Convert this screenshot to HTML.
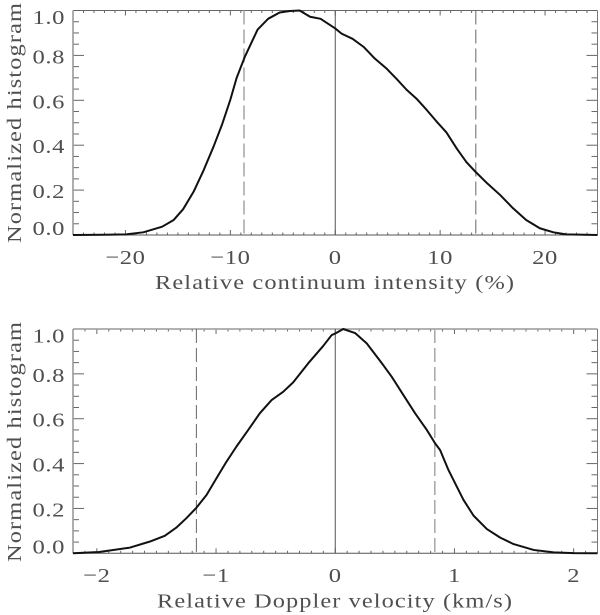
<!DOCTYPE html>
<html lang="en">
<head>
<meta charset="utf-8">
<title>Normalized histograms</title>
<style>
html,body{margin:0;padding:0;background:#fff;width:600px;height:615px;overflow:hidden}
svg{display:block;position:absolute;left:0;top:0}
text{font-family:"Liberation Serif",serif;fill:#4f4f4f}
</style>
</head>
<body>
<svg id="figure" width="600" height="615" viewBox="0 0 600 615" xmlns="http://www.w3.org/2000/svg"></svg>
<script>
const intensityBins = [-25,-22,-19.9,-18.3,-16.5,-15.4,-14.5,-13.5,-12.6,-11.6,-10.8,-10,-9.4,-8.6,-7.4,-6.4,-5.3,-4.3,-3.4,-2.4,-1.4,0,0.6,1.65,2.7,3.7,4.9,5.85,6.8,7.75,8.7,9.65,10.6,11.6,12.5,13.4,14.4,15.7,16.95,18.2,19.5,20.8,22,25];
const intensityHist = [0,0.001,0.003,0.012,0.037,0.067,0.115,0.193,0.283,0.394,0.491,0.603,0.7,0.796,0.915,0.963,0.991,0.998,1,0.972,0.963,0.92,0.897,0.874,0.838,0.789,0.741,0.695,0.647,0.607,0.558,0.506,0.457,0.384,0.325,0.28,0.234,0.179,0.119,0.067,0.03,0.012,0.003,0];
const dopplerBins = [-2.2,-1.98,-1.725,-1.557,-1.43,-1.33,-1.25,-1.165,-1.08,-0.997,-0.913,-0.83,-0.73,-0.633,-0.534,-0.437,-0.353,-0.227,-0.1,-0.03,0,0.067,0.166,0.264,0.376,0.474,0.571,0.67,0.768,0.838,0.88,0.95,1.02,1.076,1.16,1.272,1.384,1.496,1.664,1.832,2,2.2];
const dopplerHist = [0,0.006,0.025,0.052,0.078,0.116,0.156,0.203,0.26,0.334,0.408,0.475,0.55,0.624,0.683,0.72,0.762,0.847,0.925,0.973,0.98,1,0.982,0.936,0.858,0.787,0.706,0.624,0.55,0.49,0.46,0.371,0.297,0.238,0.168,0.108,0.07,0.041,0.015,0.004,0.001,0];
const yTickLabels = ["0.0","0.2","0.4","0.6","0.8","1.0"];
const intensityTickLabels = ["\u221220","\u221210","0","10","20"];
const dopplerTickLabels = ["\u22122","\u22121","0","1","2"];
const intensityDashes = [-8.7,13.4];
const dopplerDashes = [-1.165,0.835];

const NS = "http://www.w3.org/2000/svg";
const svg = document.getElementById("figure");
const TITLE_SCALE = 1.22;
const TICK_SCALE = 1.2;

function make(tag, parent, name, attrs) {
  const el = document.createElementNS(NS, tag);
  
  
  for (const k in attrs) el.setAttribute(k, attrs[k]);
  parent.appendChild(el);
  return el;
}

function drawPanel(cfg) {
  const g = make("g", svg, cfg.name, {});
  const sx = v => cfg.left + (v - cfg.xMin) / (cfg.xMax - cfg.xMin) * (cfg.right - cfg.left);
  const sy = v => cfg.bottom - v * (cfg.bottom - cfg.top);

  // minor + major ticks on x axes
  const xCount = Math.round((cfg.xMax - cfg.xMin) / cfg.xMinor);
  for (let i = 0; i <= xCount; i++) {
    const v = cfg.xMin + i * cfg.xMinor;
    const major = Math.abs(v / cfg.xMajor - Math.round(v / cfg.xMajor)) < 1e-6;
    const len = major ? 5 : 2.5;
    make("line", g, "x-tick-bottom", {x1: sx(v), x2: sx(v), y1: cfg.bottom, y2: cfg.bottom - len, stroke: "#666", "stroke-width": 1});
    make("line", g, "x-tick-top", {x1: sx(v), x2: sx(v), y1: cfg.top, y2: cfg.top + len, stroke: "#666", "stroke-width": 1});
  }
  // y ticks
  for (let i = 0; i <= 20; i++) {
    const v = i * 0.05;
    const major = i % 4 === 0;
    const len = major ? 11 : 6;
    make("line", g, "y-tick-left", {x1: cfg.left, x2: cfg.left + len, y1: sy(v), y2: sy(v), stroke: "#666", "stroke-width": 1});
    make("line", g, "y-tick-right", {x1: cfg.right, x2: cfg.right - len, y1: sy(v), y2: sy(v), stroke: "#666", "stroke-width": 1});
  }
  // frame
  make("line", g, "top-axis", {x1: cfg.left, x2: cfg.right, y1: cfg.top, y2: cfg.top, stroke: cfg.topColor, "stroke-width": cfg.topWidth});
  make("line", g, "bottom-axis", {x1: cfg.left, x2: cfg.right, y1: cfg.bottom, y2: cfg.bottom, stroke: "#555", "stroke-width": 1});
  make("line", g, "left-axis", {x1: cfg.left, x2: cfg.left, y1: cfg.top, y2: cfg.bottom, stroke: "#999", "stroke-width": 1.6});
  make("line", g, "right-axis", {x1: cfg.right, x2: cfg.right, y1: cfg.top, y2: cfg.bottom, stroke: "#777", "stroke-width": 1});

  // reference lines
  make("line", g, "zero-line", {x1: sx(0), x2: sx(0), y1: cfg.top, y2: cfg.bottom, stroke: "#555", "stroke-width": 1});
  cfg.dashes.forEach((d, i) => {
    make("line", g, "dashed-limit-" + (i + 1), {x1: sx(d), x2: sx(d), y1: cfg.top, y2: cfg.bottom, stroke: cfg.dashColors[i], "stroke-width": cfg.dashWidths[i], "stroke-dasharray": "14 5"});
  });

  // curve
  const pts = cfg.bins.map((b, i) => sx(b).toFixed(2) + "," + sy(cfg.hist[i]).toFixed(2)).join(" ");
  make("polyline", g, "histogram-curve", {points: pts, fill: "none", stroke: "#111", "stroke-width": 2, "stroke-linejoin": "round"});

  // y tick labels
  yTickLabels.forEach(lbl => {
    const base = Math.min(cfg.bottom, Math.max(cfg.top + 13.5, sy(parseFloat(lbl)) + 8));
    const t = make("text", g, "y-tick-label", {transform: "translate(65," + base + ") scale(" + TICK_SCALE + ",1)", "text-anchor": "end", "font-size": 20.5, "letter-spacing": "0.5"});
    t.textContent = lbl;
  });
  // x tick labels
  cfg.xLabels.forEach(lbl => {
    const v = parseFloat(lbl.replace("\u2212", "-"));
    const t = make("text", g, "x-tick-label", {transform: "translate(" + sx(v) + "," + cfg.xLabelY + ") scale(" + TICK_SCALE + ",1)", "text-anchor": "middle", "font-size": 20.5, "letter-spacing": "0.5"});
    t.textContent = lbl;
  });
  // axis titles
  const xt = make("text", g, "x-axis-title", {transform: "translate(" + cfg.xTitleX + "," + cfg.xTitleY + ") scale(" + TITLE_SCALE + ",1)", "font-size": 20, textLength: cfg.xTitleLen / TITLE_SCALE, lengthAdjust: "spacing"});
  xt.textContent = cfg.xTitle;
  const yt = make("text", g, "y-axis-title", {transform: "translate(21," + cfg.yTitleStart + ") rotate(-90) scale(" + TITLE_SCALE + ",1)", "font-size": 20, textLength: 240 / TITLE_SCALE, lengthAdjust: "spacing"});
  yt.textContent = "Normalized histogram";
}

drawPanel({
  name: "intensity-panel", left: 73, right: 597.5, top: 10.5, bottom: 235,
  xMin: -25, xMax: 25, xMinor: 1, xMajor: 10,
  bins: intensityBins, hist: intensityHist, dashes: intensityDashes,
  dashColors: ["#aaa", "#666"], dashWidths: [1.6, 1],
  xLabels: intensityTickLabels, xLabelY: 264,
  xTitle: "Relative continuum intensity (%)", xTitleX: 155, xTitleY: 289, xTitleLen: 359,
  yTitleStart: 243, topColor: "#666", topWidth: 1
});
drawPanel({
  name: "doppler-panel", left: 73, right: 597.5, top: 329, bottom: 553.3,
  xMin: -2.2, xMax: 2.2, xMinor: 0.1, xMajor: 1,
  bins: dopplerBins, hist: dopplerHist, dashes: dopplerDashes,
  dashColors: ["#666", "#aaa"], dashWidths: [1, 1.6],
  xLabels: dopplerTickLabels, xLabelY: 582,
  xTitle: "Relative Doppler velocity (km/s)", xTitleX: 157, xTitleY: 607.5, xTitleLen: 355,
  yTitleStart: 562, topColor: "#999", topWidth: 1.6
});
</script>
</body>
</html>
